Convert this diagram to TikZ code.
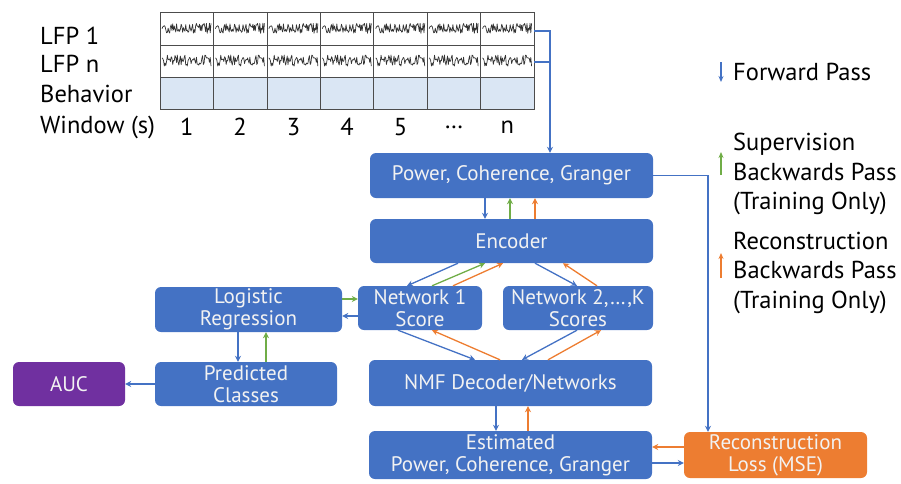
\documentclass[tikz,border=0pt]{standalone}
\usepackage{fontspec}
\setmainfont{PT Sans}
\usetikzlibrary{arrows.meta,positioning}

\definecolor{boxblue}{HTML}{4472C4}
\definecolor{boxtext}{HTML}{F2F2F2}
\definecolor{linkblue}{HTML}{4472C4}
\definecolor{supgreen}{HTML}{70AD47}
\definecolor{recorange}{HTML}{ED7D31}
\definecolor{aucpurple}{HTML}{7030A0}
\definecolor{behfill}{HTML}{DAE6F4}

\begin{document}
\begin{tikzpicture}[x=1pt,y=-1pt]
    % pipeline styles
    \tikzset{block/.style = {shape=rectangle,rounded corners=6pt,fill=boxblue,text=boxtext,
        align=center,inner sep=0pt,font=\fontsize{21}{22}\selectfont}}
    \tikzset{fwd/.style = {-{Stealth[length=6pt,width=6pt]},draw=linkblue,line width=1.3pt}}
    \tikzset{sup/.style = {fwd,draw=supgreen}}
    \tikzset{rec/.style = {fwd,draw=recorange}}
    \tikzset{rowlabel/.style = {anchor=west,inner sep=0pt,font=\fontsize{24.5}{26}\selectfont}}
    \tikzset{legend/.style = {anchor=west,align=left,inner sep=0pt,font=\fontsize{24.5}{29.5}\selectfont}}
    \tikzset{keyarrow/.style = {line width=1.2pt,-{Stealth[length=6pt,width=5pt]}}}
    \tikzset{trace/.style = {draw=black!80,line width=0.7pt,line join=round}}

    \useasboundingbox (0,0) rectangle (901,483);

    % recording windows
    \fill[behfill] (160,77) rectangle (534,109);
    \foreach \i in {0,...,6} {
        \pgfmathsetseed{11}
        \draw[trace] plot[domain=0:49,samples=65] ({162+53.43*\i+\x},{28.5+5.5*rand});
        \pgfmathsetseed{23}
        \draw[trace] plot[domain=0:49,samples=65] ({162+53.43*\i+\x},{61+6*rand});
    }
    \draw[black!70,line width=0.6pt] (160,12) rectangle (534,109);
    \draw[black!70,line width=0.6pt] (160,45) -- (534,45) (160,77) -- (534,77);
    \foreach \i in {1,...,6}
        \draw[black!70,line width=0.6pt] ({160+53.43*\i},12) -- ({160+53.43*\i},109);

    \node[rowlabel] (lfp1lbl) at (40,36)  {LFP 1};
    \node[rowlabel] (lfpnlbl) at (40,64)  {LFP n};
    \node[rowlabel] (behlbl)  at (40,94)  {Behavior};
    \node[rowlabel] (winlbl)  at (40,127) {Window (s)};
    \foreach \lbl [count=\i from 0] in {1,2,3,4,5,\dots,n}
        \node[font=\fontsize{24.5}{26}\selectfont,inner sep=0pt] (win\i) at ({186.7+53.43*\i},127) {\lbl};

    \coordinate (lfp1) at (534,31);
    \coordinate (lfpn) at (534,62);
    \coordinate (bend) at (550,31);

    % main column
    \node[block,minimum width=283pt,minimum height=45pt] (power) at (511.5,175.5) {Power, Coherence, Granger};
    \node[block,minimum width=283pt,minimum height=44pt] (enc)   at (511.5,241)   {Encoder};
    \node[block,minimum width=124pt,minimum height=44pt] (net1)  at (420,308)     {Network 1\\Score};
    \node[block,minimum width=150pt,minimum height=44pt] (netk)  at (578,308)     {Network 2,\dots,K\\Scores};
    \node[block,minimum width=283pt,minimum height=46pt] (nmf)   at (510.5,383)   {NMF Decoder/Networks};
    \node[block,minimum width=283pt,minimum height=48pt] (est)   at (510.5,455)   {Estimated\\Power, Coherence, Granger};
    \node[block,fill=recorange,minimum width=183pt,minimum height=46pt] (loss) at (775.5,455) {Reconstruction\\Loss (MSE)};

    % classifier branch
    \node[block,minimum width=187pt,minimum height=45pt] (logreg) at (248.5,309.5) {Logistic\\Regression};
    \node[block,minimum width=182pt,minimum height=44pt] (pred)   at (246,384)     {Predicted\\Classes};
    \node[block,fill=aucpurple,minimum width=112pt,minimum height=44pt] (auc) at (69,384) {AUC};

    % inputs
    \draw[fwd] (lfp1) -- (bend) -- (power.north -| bend);
    \draw[linkblue,line width=1.3pt] (lfpn) -- (lfpn -| bend);

    % features <-> encoder
    \draw[fwd] ([xshift=-26.5pt]power.south) -- ([xshift=-26.5pt]enc.north);
    \draw[sup] ([xshift=-1.5pt]enc.north) -- ([xshift=-1.5pt]power.south);
    \draw[rec] ([xshift=23.5pt]enc.north) -- ([xshift=23.5pt]power.south);

    % encoder <-> scores
    \draw[fwd] ([xshift=-53.5pt]enc.south) -- ([xshift=-13pt]net1.north);
    \draw[sup] ([xshift=12pt]net1.north) -- ([xshift=-26.5pt]enc.south);
    \draw[rec] ([xshift=33pt]net1.north) -- ([xshift=-8.5pt]enc.south);
    \draw[fwd] ([xshift=23.5pt]enc.south) -- ([xshift=-1pt]netk.north);
    \draw[rec] ([xshift=19pt]netk.north) -- ([xshift=51.5pt]enc.south);

    % scores <-> decoder
    \draw[fwd] ([xshift=-22pt]net1.south) -- ([xshift=-35.5pt]nmf.north);
    \draw[rec] ([xshift=-10.5pt]nmf.north) -- ([xshift=12pt]net1.south);
    \draw[fwd] ([xshift=-1pt]netk.south) -- ([xshift=11.5pt]nmf.north);
    \draw[rec] ([xshift=37.5pt]nmf.north) -- ([xshift=23pt]netk.south);

    % decoder <-> estimate
    \draw[fwd] ([xshift=-14.5pt]nmf.south) -- ([xshift=-14.5pt]est.north);
    \draw[rec] ([xshift=17.5pt]est.north) -- ([xshift=17.5pt]nmf.south);

    % loss
    \draw[fwd] (power.east) -| ([xshift=-67.5pt]loss.north);
    \draw[rec] ([yshift=8pt]loss.west) -- ([yshift=8pt]est.east);
    \draw[fwd] ([yshift=-8pt]est.east) -- ([yshift=-8pt]loss.west);

    % classifier
    \draw[sup] ([yshift=10.5pt]logreg.east) -- ([yshift=10.5pt]logreg.east -| net1.west);
    \draw[fwd] ([yshift=-8pt]net1.west) -- ([yshift=-8pt]net1.west -| logreg.east);
    \draw[fwd] ([xshift=-10.5pt]logreg.south) -- ([xshift=-10.5pt]logreg.south |- pred.north);
    \draw[sup] ([xshift=17.5pt]logreg.south |- pred.north) -- ([xshift=17.5pt]logreg.south);
    \draw[fwd] (pred.west) -- (auc.east);

    % legend
    \node[legend] (fwdtxt) at (733,72)  {Forward Pass};
    \node[legend] (suptxt) at (733,174) {Supervision\\Backwards Pass\\(Training Only)};
    \node[legend] (rectxt) at (733,273) {Reconstruction\\Backwards Pass\\(Training Only)};
    \draw[fwd,keyarrow] ([xshift=-12pt,yshift=10pt]fwdtxt.west) -- ([xshift=-12pt,yshift=-10pt]fwdtxt.west);
    \draw[sup,keyarrow] ([xshift=-12pt,yshift=-1pt]suptxt.west) -- ([xshift=-12pt,yshift=22pt]suptxt.west);
    \draw[rec,keyarrow] ([xshift=-12pt,yshift=-5pt]rectxt.west) -- ([xshift=-12pt,yshift=20pt]rectxt.west);
\end{tikzpicture}
\end{document}
